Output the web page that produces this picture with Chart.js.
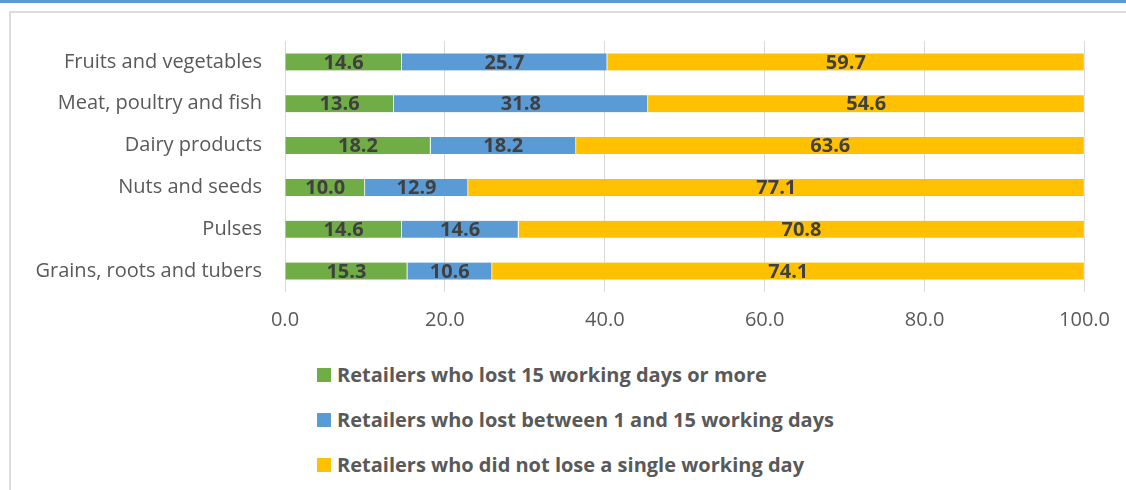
<!DOCTYPE html>
<html>
<head>
<meta charset="utf-8">
<script src="https://cdn.jsdelivr.net/npm/chart.js@4.4.1/dist/chart.umd.min.js"></script>
<style>
  html, body { margin: 0; padding: 0; background: #fff; }
  body { width: 1126px; height: 490px; position: relative; overflow: hidden; font-family: "Open Sans", sans-serif; }
  #topline { position: absolute; left: 0; top: 0; width: 1126px; height: 3px; background: #5b9bd5; }
  #frame { position: absolute; left: 9px; top: 11px; width: 1130px; height: 490px; border-top: 2px solid #dcdcdc; border-left: 2px solid #dcdcdc; }
  #wrap { position: absolute; left: 0; top: 0; width: 1126px; height: 348px; }
  #legend { position: absolute; left: 317px; top: 362px; }
  .item { height: 45px; display: flex; align-items: flex-start; }
  .box { width: 14px; height: 14px; margin-top: 6px; margin-right: 6px; }
  .txt { font-weight: bold; font-size: 20px; color: #595959; line-height: 26px; }
</style>
</head>
<body>
<div id="topline"></div>
<div id="frame"></div>
<div id="wrap"><canvas id="chart"></canvas></div>
<div id="legend"></div>
<script>
// categories (top to bottom) and the three shares in percent
var categories = ["Fruits and vegetables", "Meat, poultry and fish", "Dairy products",
                  "Nuts and seeds", "Pulses", "Grains, roots and tubers"];
var lost15 = [14.6, 13.6, 18.2, 10.0, 14.6, 15.3];
var lost1to15 = [25.7, 31.8, 18.2, 12.9, 14.6, 10.6];
var lostNone = [59.7, 54.6, 63.6, 77.1, 70.8, 74.1];
var seriesNames = ["Retailers who lost 15 working days or more",
                   "Retailers who lost between 1 and 15 working days",
                   "Retailers who did not lose a single working day"];
var xTicks = [0, 20, 40, 60, 80, 100];

var colors = ["#70ad47", "#5b9bd5", "#ffc000"];
var fontFam = "'Open Sans', sans-serif";

// draw the value in the middle of each bar segment
var valueLabels = {
    id: "valueLabels",
    afterDatasetsDraw: function(chart) {
        var ctx = chart.ctx;
        ctx.save();
        ctx.font = "bold 20px " + fontFam;
        ctx.fillStyle = "#404040";
        ctx.textAlign = "center";
        ctx.textBaseline = "middle";
        chart.data.datasets.forEach(function(ds, i) {
            var meta = chart.getDatasetMeta(i);
            meta.data.forEach(function(bar, j) {
                var cx = (bar.x + bar.base) / 2;
                ctx.fillText(ds.data[j].toFixed(1), cx, bar.y + 1);
            });
        });
        ctx.restore();
    }
};

var ctx0 = document.getElementById("chart");
var myChart = new Chart(ctx0, {
    type: "bar",
    data: {
        labels: categories,
        datasets: [
            { label: seriesNames[0], data: lost15, backgroundColor: colors[0] },
            { label: seriesNames[1], data: lost1to15, backgroundColor: colors[1] },
            { label: seriesNames[2], data: lostNone, backgroundColor: colors[2] }
        ]
    },
    options: {
        indexAxis: "y",
        responsive: true,
        maintainAspectRatio: false,
        animation: false,
        datasets: {
            bar: { barThickness: 17, borderWidth: { left: 0, right: 1, top: 0, bottom: 0 }, borderColor: "#ffffff", borderSkipped: false }
        },
        layout: { padding: { top: 41, right: 37, bottom: 0, left: 0 } },
        plugins: {
            legend: { display: false },
            tooltip: { enabled: false }
        },
        scales: {
            x: {
                stacked: true,
                min: 0,
                max: 100,
                afterBuildTicks: function(scale) {
                    scale.ticks = xTicks.map(function(v) { return { value: v }; });
                },
                grid: { color: "#d9d9d9", lineWidth: 1, drawTicks: false },
                border: { display: false },
                ticks: {
                    padding: 16,
                    maxRotation: 0,
                    color: "#595959",
                    font: { family: fontFam, size: 20 },
                    callback: function(v) { return Number(v).toFixed(1); }
                }
            },
            y: {
                stacked: true,
                grid: { display: false, drawTicks: false },
                border: { display: false },
                afterFit: function(scale) { scale.width = 285; },
                ticks: {
                    padding: 23,
                    color: "#595959",
                    font: { family: fontFam, size: 20 }
                }
            }
        }
    },
    plugins: [valueLabels]
});

// vertical legend built from the chart's datasets
var legendHtml = "";
myChart.data.datasets.forEach(function(ds) {
    legendHtml += "<div class='item'><div class='box' style='background:" + ds.backgroundColor +
                  "'></div><div class='txt'>" + ds.label + "</div></div>";
});
document.getElementById("legend").innerHTML = legendHtml;
</script>
</body>
</html>
